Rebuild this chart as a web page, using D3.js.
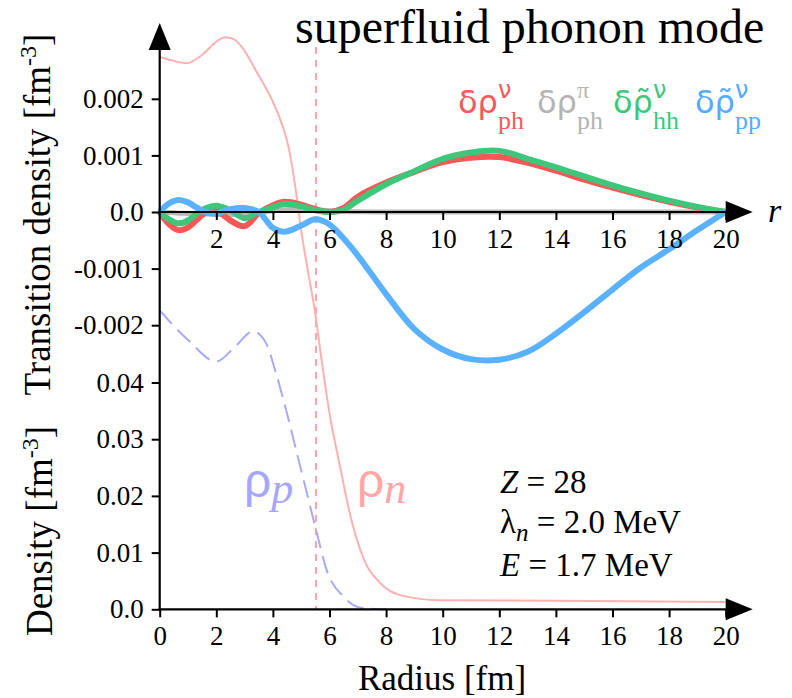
<!DOCTYPE html>
<html>
<head>
<meta charset="utf-8">
<script src="https://cdn.jsdelivr.net/npm/d3@7"></script>
<style>
  body { margin: 0; background: #fff; }
</style>
</head>
<body>
<script>
// radius grid for the transition densities (fm)
var radius = [0, 0.3, 0.66, 1, 1.3, 1.6, 2, 2.5, 3, 3.5, 4, 4.4, 5, 5.5, 6, 6.5, 7, 8, 9, 10, 11, 12, 13, 14, 15, 16, 17, 18, 19, 20];

// transition densities (fm^-3)
var phNu = [0, -0.00020, -0.00032, -0.00027, -0.00014, -0.00002, 0.00002, -0.00015, -0.00025, -0.00002, 0.00012, 0.00018, 0.00013, 0.00005, 0.0, 0.00007, 0.00027, 0.00052, 0.00071, 0.00088, 0.00096, 0.00097, 0.00087, 0.00073, 0.00057, 0.00043, 0.00030, 0.00018, 0.00008, 0];
var phPi = [0, -0.00001, -0.00002, -0.000025, -0.00003, -0.000035, -0.00004, -0.00005, -0.00004, -0.00001, 0.00002, 0.00004, 0.00005, 0.00004, 0.00002, 0.00001, 0.000005, 0, 0, 0, 0, 0, 0, 0, 0, 0, 0, 0, 0, 0];
var hhNu = [0, -0.00012, -0.00020, -0.00015, -0.00003, 0.00006, 0.00011, 0.00003, -0.00011, 0.0, 0.00008, 0.00014, 0.00010, 0.00003, 0.0, 0.00004, 0.00020, 0.00049, 0.00072, 0.00094, 0.00105, 0.00108, 0.00094, 0.00079, 0.00063, 0.00047, 0.00033, 0.00020, 0.00009, 0];
var ppNu = [0, 0.00014, 0.00021, 0.00017, 0.00008, 0.0, -0.00003, 0.00005, 0.00007, 0.0, -0.00028, -0.00035, -0.00024, -0.00013, -0.00022, -0.00047, -0.00077, -0.00145, -0.00207, -0.00243, -0.00260, -0.00261, -0.00247, -0.00215, -0.00177, -0.00137, -0.00098, -0.00066, -0.00032, 0];

// ground state densities (fm^-3)
var rhoNr = [0, 0.5, 0.95, 1.5, 2, 2.3, 2.6, 2.9, 3.4, 4, 4.3, 4.55, 4.8, 5, 5.25, 5.5, 5.7, 6, 6.4, 6.7, 7.2, 7.8, 8.5, 9.9, 14, 20];
var rhoN = [0.0974, 0.0967, 0.0963, 0.0978, 0.1001, 0.1009, 0.1006, 0.0992, 0.0950, 0.0895, 0.0858, 0.0816, 0.0742, 0.0668, 0.0593, 0.0521, 0.0447, 0.0346, 0.0245, 0.0173, 0.0090, 0.0046, 0.0025, 0.0016, 0.0015, 0.0013];
var rhoPr = [0, 1, 2, 2.66, 3.3, 3.75, 4.1, 4.5, 4.85, 5.2, 5.55, 5.9, 6.5, 7.2, 8];
var rhoP = [0.0527, 0.0475, 0.0437, 0.0463, 0.0490, 0.0470, 0.0418, 0.0345, 0.0275, 0.0205, 0.0135, 0.0069, 0.0022, 0.0002, 0];

var radiusRms = 5.52;

var xTicksTop = [2, 4, 6, 8, 10, 12, 14, 16, 18, 20];
var xTicksBottom = [0, 2, 4, 6, 8, 10, 12, 14, 16, 18, 20];
var yTicksTrans = [-0.002, -0.001, 0, 0.001, 0.002];
var yTicksDens = [0, 0.01, 0.02, 0.03, 0.04];

var chartWidth = 792;
var chartHeight = 698;
var SERIF = "'Liberation Serif'";

var xScale = d3.scaleLinear().domain([0, 20]).range([159.7, 725.7]);
var yTrans = d3.scaleLinear().domain([0, 0.001]).range([212, 155.4]);
var yDens = d3.scaleLinear().domain([0, 0.01]).range([609.3, 552.6]);

var svg = d3.select("body")
            .append("svg")
            .attr("width", chartWidth)
            .attr("height", chartHeight);

svg.append("rect").attr("width", chartWidth).attr("height", chartHeight).attr("fill", "#fff");

function addText(x, y, size, str) {
  return svg.append("text")
            .attr("x", x).attr("y", y)
            .style("font-family", SERIF)
            .style("font-size", size + "px")
            .text(str || null);
}

// ground state densities
svg.append("line")
   .attr("x1", xScale(radiusRms)).attr("x2", xScale(radiusRms))
   .attr("y1", 47).attr("y2", yDens(0))
   .attr("stroke", "#ffa3a8")
   .attr("stroke-width", 2)
   .attr("stroke-dasharray", "7,6");

var densLine = d3.line()
                 .x(function(d) { return xScale(d[0]); })
                 .y(function(d) { return yDens(d[1]); })
                 .curve(d3.curveMonotoneX);

svg.append("path")
   .attr("d", densLine(d3.zip(rhoNr, rhoN)))
   .attr("fill", "none")
   .attr("stroke", "#ffb0b0")
   .attr("stroke-width", 2);

svg.append("path")
   .attr("d", densLine(d3.zip(rhoPr, rhoP)))
   .attr("fill", "none")
   .attr("stroke", "#a9a9f9")
   .attr("stroke-width", 2)
   .attr("stroke-dasharray", "18,8");

// transition densities
var transLine = d3.line()
                  .x(function(d) { return xScale(d[0]); })
                  .y(function(d) { return yTrans(d[1]); })
                  .curve(d3.curveCatmullRom.alpha(0.5));

var series = [
  {values: phPi, color: "#b8b8b8", width: 5},
  {values: phNu, color: "#f75757", width: 6},
  {values: hhNu, color: "#3ec77a", width: 6},
  {values: ppNu, color: "#5ab1ff", width: 6}
];

series.forEach(function(s) {
  svg.append("path")
     .attr("d", transLine(d3.zip(radius, s.values)))
     .attr("fill", "none")
     .attr("stroke", s.color)
     .attr("stroke-width", s.width)
     .attr("stroke-linejoin", "round");
});

// axes
function styleAxis(g) {
  g.select(".domain").remove();
  g.selectAll(".tick line").attr("stroke", "#000").attr("stroke-width", 2);
  g.selectAll(".tick text")
   .attr("fill", "#000")
   .style("font-family", SERIF)
   .style("font-size", "27px");
}

svg.append("g")
   .attr("transform", "translate(" + xScale(0) + ",0)")
   .call(d3.axisLeft(yTrans).tickValues(yTicksTrans).tickSize(8).tickPadding(8)
           .tickFormat(function(d) { return d === 0 ? "0.0" : d.toFixed(3); }))
   .call(styleAxis);

svg.append("g")
   .attr("transform", "translate(" + xScale(0) + ",0)")
   .call(d3.axisLeft(yDens).tickValues(yTicksDens).tickSize(8).tickPadding(8)
           .tickFormat(function(d) { return d === 0 ? "0.0" : d.toFixed(2); }))
   .call(styleAxis);

svg.append("g")
   .attr("transform", "translate(0," + yTrans(0) + ")")
   .call(d3.axisBottom(xScale).tickValues(xTicksTop).tickSize(8).tickPadding(8.5))
   .call(styleAxis);

svg.append("g")
   .attr("transform", "translate(0," + yDens(0) + ")")
   .call(d3.axisBottom(xScale).tickValues(xTicksBottom).tickSize(8).tickPadding(8.5))
   .call(styleAxis);

// axis lines with arrows
var x0 = xScale(0), x20 = xScale(20);
svg.append("line").attr("x1", x0).attr("x2", x0).attr("y1", yDens(0) + 1).attr("y2", 48)
   .attr("stroke", "#000").attr("stroke-width", 2.2);
svg.append("path").attr("d", "M" + x0 + ",23 L" + (x0 - 11) + ",50 L" + (x0 + 11) + ",50 Z").attr("fill", "#000");

[yTrans(0), yDens(0)].forEach(function(y) {
  svg.append("line").attr("x1", x0 - 1).attr("x2", x20 + 2).attr("y1", y).attr("y2", y)
     .attr("stroke", "#000").attr("stroke-width", 2.2);
  svg.append("path").attr("d", "M" + (x20 + 27) + "," + y + " L" + x20 + "," + (y - 11) + " L" + x20 + "," + (y + 11) + " Z")
     .attr("fill", "#000");
});

// labels
addText(295, 43, 48, "superfluid phonon mode");

addText(768, 222, 34, "r").style("font-style", "italic");

function yLabel(cx, cy, str) {
  var t = svg.append("text")
     .attr("transform", "translate(" + cx + "," + cy + ") rotate(-90)")
     .attr("text-anchor", "middle")
     .style("font-family", SERIF)
     .style("font-size", "37px");
  t.append("tspan").text(str + " [fm");
  t.append("tspan").attr("dy", -14).style("font-size", "24px").text("-3");
  t.append("tspan").attr("dy", 14).text("]");
}
yLabel(50, 214.5, "Transition density");
yLabel(52, 531, "Density");

addText(442, 690, 35, "Radius [fm]").attr("text-anchor", "middle");

// legend: one text element per entry, sup and sub stacked after the main symbol
var legend = [
  {x: 458, color: "#f55a5a", main: "δρ", sup: "ν", sub: "ph"},
  {x: 537, color: "#b4b4b4", main: "δρ", sup: "π", sub: "ph"},
  {x: 613, color: "#3ec77a", main: "δρ\u0303", sup: "ν", sub: "hh"},
  {x: 695, color: "#55acff", main: "δρ\u0303", sup: "ν", sub: "pp"}
];

legend.forEach(function(d) {
  var t = svg.append("text")
     .attr("x", d.x).attr("y", 113)
     .attr("fill", d.color);
  var m = t.append("tspan")
     .style("font-family", "'DejaVu Sans'")
     .style("font-size", "32px")
     .text(d.main);
  var w = m.node().getComputedTextLength();
  t.append("tspan").attr("x", d.x + w).attr("y", 98)
   .style("font-family", d.sup === "π" ? SERIF : "'DejaVu Sans'").style("font-size", "24px").text(d.sup);
  t.append("tspan").attr("x", d.x + w).attr("y", 129)
   .style("font-family", SERIF).style("font-size", "26px").text(d.sub);
});

// density labels
function rhoLabel(x, color, sub) {
  var t = svg.append("text").attr("x", x).attr("y", 497).attr("fill", color);
  t.append("tspan").style("font-family", "'Liberation Sans'").style("font-size", "48px").text("ρ");
  t.append("tspan").attr("dy", 6).style("font-family", SERIF).style("font-style", "italic").style("font-size", "44px").text(sub);
}
rhoLabel(244, "#a6a6ff", "p");
rhoLabel(357, "#ffa6a6", "n");

// parameters
var t1 = addText(500, 493, 33);
t1.append("tspan").style("font-style", "italic").text("Z");
t1.append("tspan").text(" = 28");
var t2 = addText(500, 533, 33);
t2.append("tspan").text("λ");
t2.append("tspan").attr("dy", 8).style("font-style", "italic").style("font-size", "25px").text("n");
t2.append("tspan").attr("dy", -8).text(" = 2.0 MeV");
var t3 = addText(500, 576, 33);
t3.append("tspan").style("font-style", "italic").text("E");
t3.append("tspan").text(" = 1.7 MeV");
</script>
</body>
</html>
